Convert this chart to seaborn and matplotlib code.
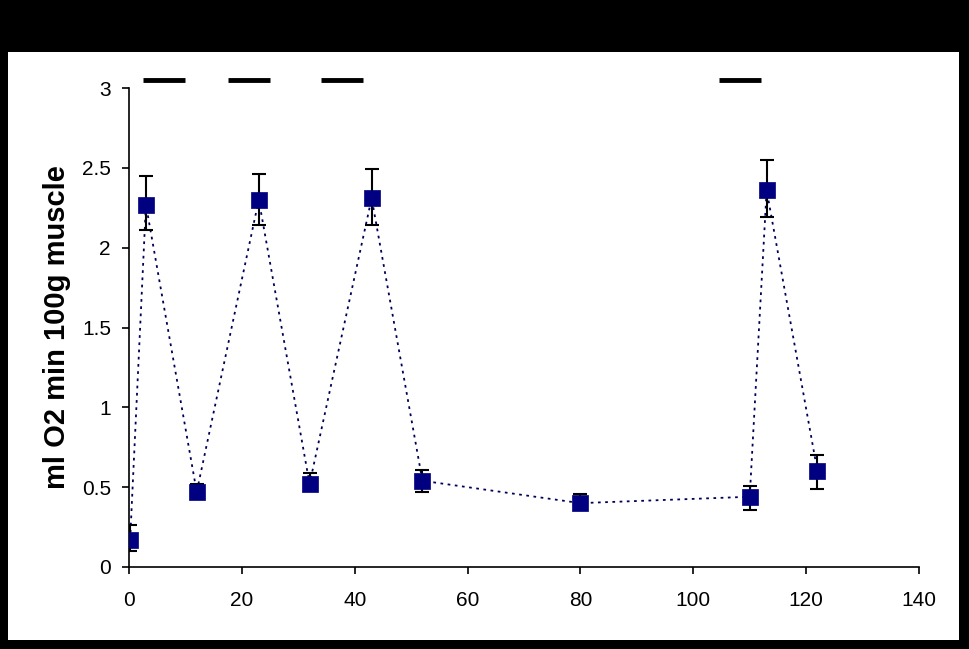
import matplotlib
matplotlib.use("Agg")
import matplotlib.pyplot as plt
import seaborn as sns
import pandas as pd
from matplotlib.patches import Rectangle

time_min = [0.2, 3, 12, 23, 32, 43, 52, 80, 110, 113, 122]
vo2 = [0.17, 2.27, 0.47, 2.30, 0.52, 2.31, 0.54, 0.40, 0.44, 2.36, 0.60]
err_up = [0.09, 0.18, 0.05, 0.16, 0.07, 0.18, 0.07, 0.06, 0.07, 0.19, 0.10]
err_down = [0.07, 0.16, 0.02, 0.16, 0.03, 0.17, 0.07, 0.04, 0.08, 0.17, 0.11]
bar_start = [2.5, 17.5, 34, 104.5]
bar_end = [10, 25, 41.5, 112]
bar_level = 3.05

df = pd.DataFrame({"t": time_min, "v": vo2})

sns.set_style("ticks")
plt.rcParams["font.family"] = ["Liberation Sans", "DejaVu Sans"]

fig = plt.figure(figsize=(9.69, 6.49), dpi=100, facecolor="black")
fig.patches.append(Rectangle((8/969, 9/649), 951/969, 588/649, transform=fig.transFigure,
                             facecolor="white", edgecolor="none", zorder=-10))
ax = fig.add_axes([129/969, (649-567)/649, (919-129)/969, (567-88)/649])
ax.set_facecolor("white")
ax.patch.set_alpha(0)

sns.lineplot(data=df, x="t", y="v", ax=ax, color="#000055", linestyle=(0, (1.5, 2.5)),
             linewidth=1.3, marker=None, sort=False, zorder=2)
ax.errorbar(time_min, vo2, yerr=[err_down, err_up], fmt="none", ecolor="black",
            elinewidth=1.5, capsize=5, capthick=1.5, zorder=3)
sns.scatterplot(data=df, x="t", y="v", ax=ax, marker="s", s=125, color="#000080",
                edgecolor="#000080", linewidth=0.5, zorder=4)

for s, e in zip(bar_start, bar_end):
    ax.plot([s, e], [bar_level, bar_level], color="black", linewidth=3.5,
            solid_capstyle="butt", clip_on=False)

ax.set_xlim(0, 140)
ax.set_ylim(0, 3)
ax.set_xticks(range(0, 141, 20))
ax.set_yticks([0, 0.5, 1, 1.5, 2, 2.5, 3])
ax.set_yticklabels(["0", "0.5", "1", "1.5", "2", "2.5", "3"])
for sp in ["top", "right"]:
    ax.spines[sp].set_visible(False)
for sp in ["left", "bottom"]:
    ax.spines[sp].set_color("black")
    ax.spines[sp].set_linewidth(1.2)
ax.tick_params(axis="both", direction="out", length=5, width=1.2, color="black",
               labelsize=15, labelcolor="black")
ax.tick_params(axis="x", pad=12)
ax.tick_params(axis="y", pad=8)
ax.set_xlabel("")
ax.set_ylabel("ml O2 min 100g muscle", fontsize=21, fontweight="bold", color="black", labelpad=8)

fig.savefig("out.png", dpi=100, facecolor="black")
